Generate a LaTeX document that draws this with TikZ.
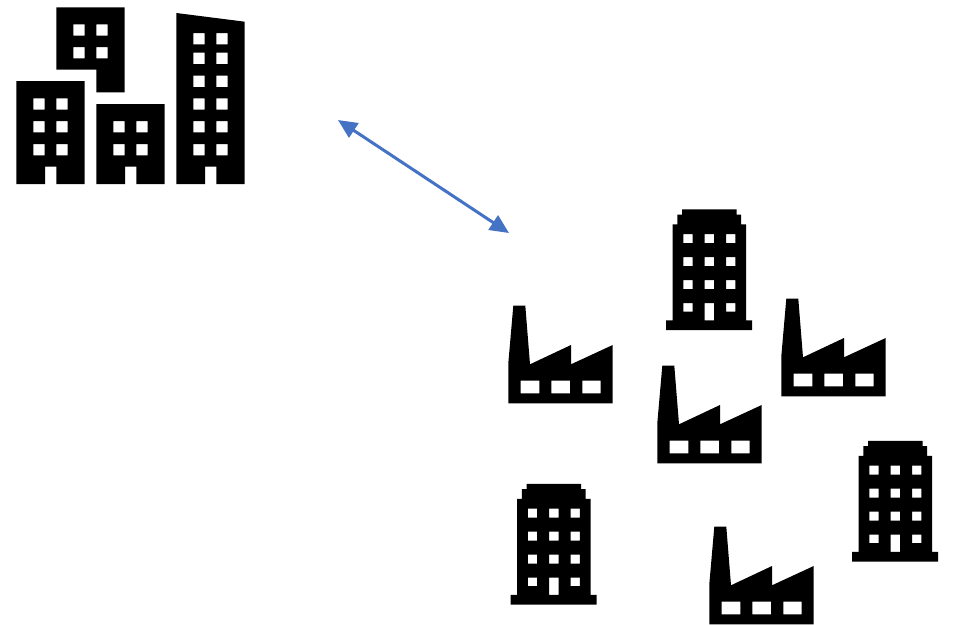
\documentclass[tikz,border=0pt]{standalone}
\usetikzlibrary{arrows.meta}
\definecolor{linkblue}{HTML}{4472C4}
\tikzset{
  x=1pt,y=-1pt,
  solid black/.style={fill=black,draw=none,even odd rule},
  link/.style={draw=linkblue,line width=3pt,{Triangle[length=19pt,width=17pt,fill=linkblue]}-{Triangle[length=19pt,width=17pt,fill=linkblue]}},
  factorypic/.pic={
    \fill[solid black] (508.3,403.3) -- (508.3,363.3) -- (513.3,305.7) -- (525.3,305.7) -- (530,364.3) -- (571,345) -- (571,364.3) -- (612.7,345) -- (612.7,403.3) -- cycle
      (520.7,380.7) rectangle (539.3,393.3)
      (551.3,380.7) rectangle (570,393.3)
      (582.3,380.7) rectangle (600.7,393.3);
  },
  towerpic/.pic={
    \fill[solid black] (666,330) -- (666,320.3) -- (672.7,320.3) -- (672.7,224.3) -- (677.3,224.3) -- (677.3,214.7) -- (682,214.7) -- (682,209.3) -- (736.7,209.3) -- (736.7,214.7) -- (741,214.7) -- (741,224.3) -- (746,224.3) -- (746,320.3) -- (752,320.3) -- (752,330) -- cycle
      (683.3,234) rectangle (692.7,243) (704.7,234) rectangle (714,243) (726,234) rectangle (735.3,243)
      (683.3,257) rectangle (692.7,266) (704.7,257) rectangle (714,266) (726,257) rectangle (735.3,266)
      (683.3,280) rectangle (692.7,289) (704.7,280) rectangle (714,289) (726,280) rectangle (735.3,289)
      (683.3,303) rectangle (692.7,311.7) (704.7,303) rectangle (714,320.3) (726,303) rectangle (735.3,311.7);
  }
}
\begin{document}
\begin{tikzpicture}
\useasboundingbox (0,0) rectangle (955,624);
% city: top building
\fill[solid black] (56.3,7.3) -- (124.7,7.3) -- (124.7,92.3) -- (96.3,92.3) -- (96.3,69.7) -- (56.3,69.7) -- cycle
  (73.3,24.3) rectangle (84.7,35.7) (96.3,24.3) rectangle (107.7,35.7)
  (73.3,47) rectangle (84.7,58.3) (96.3,47) rectangle (107.7,58.3);
% city: left building
\fill[solid black] (16.3,81) -- (84.7,81) -- (84.7,184) -- (56.3,184) -- (56.3,166.7) -- (45,166.7) -- (45,184) -- (16.3,184) -- cycle
  (33.3,98.3) rectangle (44.7,109.7) (56.3,98.3) rectangle (67.7,109.7)
  (33.3,121) rectangle (44.7,132.3) (56.3,121) rectangle (67.7,132.3)
  (33.3,144) rectangle (44.7,155.3) (56.3,144) rectangle (67.7,155.3);
% city: middle building
\fill[solid black] (96.3,104) -- (164.7,104) -- (164.7,184) -- (136.3,184) -- (136.3,166.7) -- (125,166.7) -- (125,184) -- (96.3,184) -- cycle
  (113.3,121) rectangle (124.7,132.3) (136.3,121) rectangle (147.7,132.3)
  (113.3,144) rectangle (124.7,155.3) (136.3,144) rectangle (147.7,155.3);
% city: tall building
\fill[solid black] (176.3,13) -- (244.7,21.7) -- (244.7,184) -- (216.3,184) -- (216.3,166.7) -- (205,166.7) -- (205,184) -- (176.3,184) -- cycle
  (193.3,33) rectangle (204.7,44.3) (216.3,33) rectangle (227.7,44.3)
  (193.3,52.7) rectangle (204.7,64) (216.3,52.7) rectangle (227.7,64)
  (193.3,75.7) rectangle (204.7,87) (216.3,75.7) rectangle (227.7,87)
  (193.3,98.3) rectangle (204.7,109.7) (216.3,98.3) rectangle (227.7,109.7)
  (193.3,121) rectangle (204.7,132.3) (216.3,121) rectangle (227.7,132.3)
  (193.3,144) rectangle (204.7,155.3) (216.3,144) rectangle (227.7,155.3);
% connector
\coordinate (cityend) at (338,120);
\coordinate (plantend) at (509,233);
\draw[link] (cityend) -- (plantend);
% factories
\pic at (0,0) {factorypic};
\pic at (273,-7) {factorypic};
\pic at (149,60) {factorypic};
\pic at (201,221) {factorypic};
% towers
\pic at (0,0) {towerpic};
\pic at (186,231.5) {towerpic};
\pic at (-155.5,274.5) {towerpic};
\end{tikzpicture}
\end{document}
